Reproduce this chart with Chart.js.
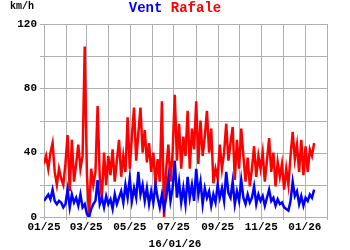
<!DOCTYPE html>
<html lang="fr">
<head>
<meta charset="UTF-8">
<title>Vent Rafale</title>
<script src="https://cdn.jsdelivr.net/npm/chart.js"></script>
<style>
  html, body { margin: 0; padding: 0; background: #fff; }
  #wrap { width: 350px; height: 250px; }
</style>
</head>
<body>
<div id="wrap"><canvas id="ventChart" width="350" height="250"></canvas></div>
<script>
// une valeur tous les 3 jours depuis le 01/01/25
const stepDays = 3;
const vent = [10,12,14,11,17,10,8,10,9,6, 8,17,6,14,9,12,7,14,6,8,
  2,0,5,8,10,23,8,12,6,13, 8,11,5,14,8,12,16,9,20,12,
  24,10,18,12,28,14,20,10,18,8, 16,9,20,12,6,14,5,12,24,10,
  18,35,12,22,9,18,8,25,12,20, 10,30,14,22,8,18,12,16,7,14,
  9,20,12,18,10,28,15,12,22,8, 16,10,23,12,8,14,9,12,19,8,
  14,10,13,7,12,17,10,12,7,11, 8,9,6,5,4,10,22,13,16,8,
  13,7,12,10,14,12,17];
const rafale = [33,38,30,40,46,28,20,30,24,20, 33,51,16,48,22,33,45,30,38,106,
  28,0,30,20,28,69,25,12,40,20, 38,26,42,22,35,48,25,38,28,62,
  30,50,68,35,52,68,40,54,34,46, 28,40,20,36,22,72,0,30,45,22,
  40,76,35,58,30,50,38,66,30,55, 42,72,33,60,38,50,66,40,55,21,
  30,24,45,30,40,58,35,46,56,23, 48,30,55,38,22,37,19,30,44,25,
  38,30,40,22,35,49,28,40,19,34, 25,33,17,30,20,38,53,36,45,28,
  48,26,44,28,42,38,46];
// début de chaque mois (jours depuis le 01/01/25)
const monthStarts = [0,31,59,90,120,151,181,212,243,273,304,334,365,396];
const monthLabels = ['01/25','02/25','03/25','04/25','05/25','06/25','07/25',
  '08/25','09/25','10/25','11/25','12/25','01/26','02/26'];
const yGrid = [0,20,40,60,80,100,120];
const yTicks = [0,40,80,120];
const dateLabel = '16/01/26';

const font = { family: '"Liberation Mono", "DejaVu Sans Mono", monospace', size: 11, weight: 'bold' };
const gridColor = '#b0b0b0';

// grille dessinée sous les courbes, à partir des échelles
const grille = {
  id: 'grille',
  beforeDatasetsDraw(chart) {
    const { ctx: c, chartArea: a, scales: { x, y } } = chart;
    c.save();
    c.strokeStyle = gridColor;
    c.lineWidth = 1;
    c.beginPath();
    monthStarts.forEach(d => {
      const px = Math.round(x.getPixelForValue(d)) + 0.5;
      c.moveTo(px, a.top); c.lineTo(px, a.bottom + 3);
    });
    yGrid.forEach(v => {
      const py = Math.round(y.getPixelForValue(v)) + 0.5;
      c.moveTo(a.left - 4, py); c.lineTo(a.right, py);
    });
    c.stroke();
    c.restore();
  }
};

const textes = {
  id: 'textes',
  afterDraw(chart) {
    const c = chart.ctx;
    c.save();
    c.textBaseline = 'middle';
    c.font = 'bold 14px "Liberation Mono", monospace';
    const w1 = c.measureText('Vent ').width;
    const w2 = c.measureText('Rafale').width;
    const x = 175 - (w1 + w2) / 2;
    c.textAlign = 'left';
    c.fillStyle = '#0000ff';
    c.fillText('Vent', x, 8);
    c.fillStyle = '#ff0000';
    c.fillText('Rafale', x + w1, 8);
    c.fillStyle = '#000';
    c.font = 'bold 10px "Liberation Mono", monospace';
    c.fillText('km/h', 10, 6);
    c.font = 'bold 11px "Liberation Mono", monospace';
    c.textAlign = 'center';
    c.fillText(dateLabel, 175, 244);
    c.restore();
  }
};

const hiddenGrid = { display: true, drawOnChartArea: false, color: 'rgba(0,0,0,0)', tickLength: 3 };

new Chart(document.getElementById('ventChart'), {
  type: 'line',
  data: {
    datasets: [
      { label: 'Vent', data: vent.map((v, i) => ({ x: i * stepDays, y: v })),
        borderColor: '#0000ff', borderWidth: 2.5, pointRadius: 0, tension: 0 },
      { label: 'Rafale', data: rafale.map((v, i) => ({ x: i * stepDays, y: v })),
        borderColor: '#ff0000', borderWidth: 2.5, pointRadius: 0, tension: 0 }
    ]
  },
  options: {
    responsive: false,
    animation: false,
    layout: { padding: { top: 24, right: 23, left: 0, bottom: 0 } },
    plugins: { legend: { display: false }, tooltip: { enabled: false } },
    scales: {
      x: {
        type: 'linear', min: 0, max: 396,
        afterBuildTicks: ax => { ax.ticks = monthStarts.map(v => ({ value: v })); },
        afterFit: ax => { ax.height = 33; },
        ticks: {
          color: '#000', font: font, maxRotation: 0, autoSkip: false, padding: 1,
          callback: (v, i) => (i % 2 === 0 ? monthLabels[i] : '')
        },
        grid: hiddenGrid,
        border: { display: false }
      },
      y: {
        min: 0, max: 120,
        afterBuildTicks: ax => { ax.ticks = yTicks.map(v => ({ value: v })); },
        afterFit: ax => { ax.width = 44; },
        ticks: { color: '#000', font: font, padding: 3, autoSkip: false },
        grid: { ...hiddenGrid, tickLength: 4 },
        border: { display: false }
      }
    }
  },
  plugins: [grille, textes]
});
</script>
</body>
</html>
